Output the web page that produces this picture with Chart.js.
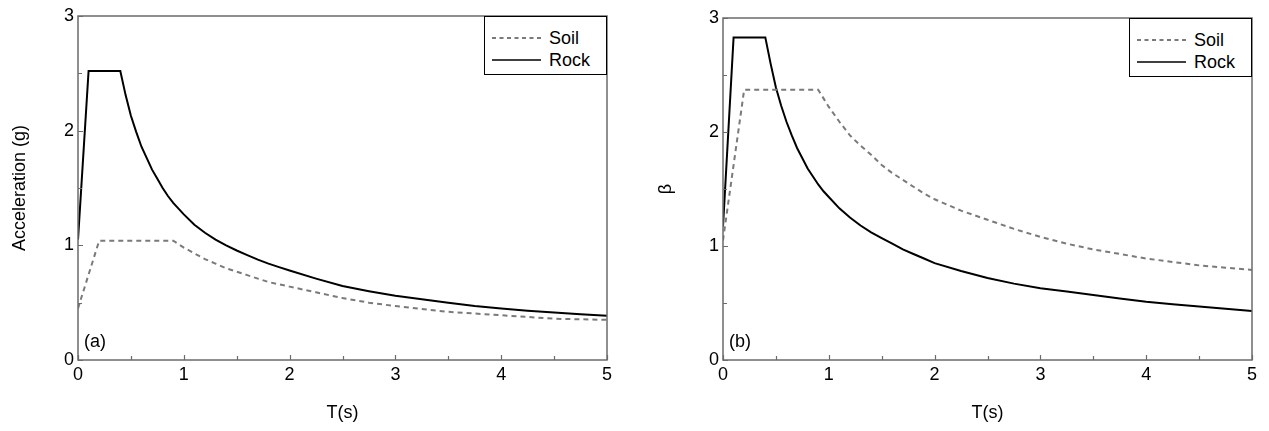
<!DOCTYPE html>
<html>
<head>
<meta charset="utf-8">
<script src="https://cdn.jsdelivr.net/npm/chart.js@4/dist/chart.umd.min.js"></script>
<style>
  html, body { margin: 0; padding: 0; background: #fff; }
  body { width: 1269px; height: 431px; position: relative; overflow: hidden; font-family: "Liberation Sans", Arial, sans-serif; }
  .panel { position: absolute; top: 0; height: 431px; }
  .legend { position: absolute; border: 1.5px solid #000; box-sizing: border-box; background: #fff; font-size: 18px; }
  .legend .row { position: absolute; left: 0; height: 22px; line-height: 22px; white-space: nowrap; }
  .legend svg { position: absolute; left: 7px; top: 0; }
  .legend span { position: absolute; left: 64px; top: 0; }
  .tag { position: absolute; font-size: 18px; line-height: 22px; }
</style>
</head>
<body>
<div class="panel" style="left:0;width:634px"><canvas id="chartA" width="634" height="431"></canvas></div>
<div class="panel" style="left:634px;width:635px"><canvas id="chartB" width="635" height="431"></canvas></div>

<script>
// periods (s)
const rockT = [0, 0.1, 0.4, 0.45, 0.5, 0.55, 0.6, 0.65, 0.7, 0.75, 0.8, 0.85, 0.9, 0.95, 1.0,
    1.1, 1.2, 1.3, 1.4, 1.5, 1.6, 1.7, 1.8, 1.9, 2.0,
    2.25, 2.5, 2.75, 3.0, 3.25, 3.5, 3.75, 4.0, 4.25, 4.5, 4.75, 5.0];
const soilT = [0, 0.2, 0.9, 1.0, 1.1, 1.2, 1.3, 1.4, 1.5, 1.6, 1.7, 1.8, 1.9, 2.0,
    2.25, 2.5, 2.75, 3.0, 3.25, 3.5, 3.75, 4.0, 4.25, 4.5, 4.75, 5.0];

// (a) acceleration (g)
const rockA = [1.05, 2.52, 2.52, 2.31, 2.13, 1.99, 1.86, 1.76, 1.66, 1.58, 1.50, 1.43, 1.37, 1.32, 1.27,
    1.18, 1.11, 1.05, 1.00, 0.955, 0.915, 0.875, 0.84, 0.81, 0.78,
    0.71, 0.645, 0.60, 0.56, 0.53, 0.50, 0.47, 0.45, 0.43, 0.415, 0.40, 0.385];
const soilA = [0.45, 1.04, 1.04, 0.98, 0.93, 0.88, 0.84, 0.80, 0.77, 0.74, 0.71, 0.68, 0.66, 0.64,
    0.59, 0.54, 0.50, 0.47, 0.445, 0.42, 0.405, 0.39, 0.375, 0.36, 0.355, 0.35];

// (b) beta
const rockB = [1.17, 2.83, 2.83, 2.60, 2.39, 2.23, 2.09, 1.97, 1.86, 1.77, 1.68, 1.61, 1.54, 1.48, 1.43,
    1.33, 1.25, 1.18, 1.12, 1.07, 1.02, 0.97, 0.93, 0.89, 0.85,
    0.78, 0.72, 0.67, 0.63, 0.60, 0.57, 0.54, 0.51, 0.49, 0.47, 0.45, 0.43];
const soilB = [1.05, 2.37, 2.37, 2.22, 2.09, 1.97, 1.88, 1.80, 1.71, 1.64, 1.58, 1.52, 1.46, 1.41,
    1.31, 1.23, 1.15, 1.08, 1.02, 0.97, 0.93, 0.89, 0.86, 0.83, 0.81, 0.79];

const seriesNames = ["Soil", "Rock"];
const xTicks = [0, 1, 2, 3, 4, 5];
const yTicks = [0, 1, 2, 3];

const fontFamily = "'Liberation Sans', Arial, sans-serif";
const labelFont = { family: fontFamily, size: 18 };
Chart.defaults.color = "#000";

const frameColor = "#6b6b6b";

function toPoints(xs, ys) {
    return xs.map((x, i) => ({ x: x, y: ys[i] }));
}

// box around the plot + inward ticks (major every 1, minor every 0.5)
const framePlugin = {
    id: "frame",
    afterDraw(chart) {
        const ctx = chart.ctx;
        const a = chart.chartArea;
        const sx = chart.scales.x;
        const sy = chart.scales.y;
        ctx.save();
        ctx.strokeStyle = frameColor;
        ctx.lineWidth = 1.5;
        ctx.strokeRect(a.left, a.top, a.right - a.left, a.bottom - a.top);

        ctx.lineWidth = 1.2;
        ctx.beginPath();
        for (let v = 0; v <= sx.max + 1e-9; v += 0.5) {
            const px = Math.round(sx.getPixelForValue(v)) + 0.5;
            const len = Number.isInteger(v) ? 5 : 4;
            ctx.moveTo(px, a.bottom);
            ctx.lineTo(px, a.bottom - len);
        }
        for (let v = 0; v <= sy.max + 1e-9; v += 0.5) {
            const py = Math.round(sy.getPixelForValue(v)) + 0.5;
            const len = Number.isInteger(v) ? 5 : 4;
            ctx.moveTo(a.left, py);
            ctx.lineTo(a.left + len, py);
        }
        ctx.stroke();
        ctx.restore();
    }
};

function makeChart(id, soil, rock, yTitle, yWidth, titlePad, padding) {
    const ctx = document.getElementById(id).getContext("2d");
    return new Chart(ctx, {
        type: "line",
        data: {
            datasets: [
                {
                    label: seriesNames[0],
                    data: toPoints(soilT, soil),
                    borderColor: "#7a7a7a",
                    borderWidth: 2,
                    borderDash: [5, 4],
                    pointRadius: 0,
                    tension: 0,
                    fill: false
                },
                {
                    label: seriesNames[1],
                    data: toPoints(rockT, rock),
                    borderColor: "#000",
                    borderWidth: 2,
                    pointRadius: 0,
                    tension: 0,
                    fill: false
                }
            ]
        },
        options: {
            responsive: false,
            animation: false,
            layout: { padding: padding },
            plugins: {
                legend: { display: false },
                tooltip: { enabled: false }
            },
            scales: {
                x: {
                    type: "linear",
                    min: 0,
                    max: 5,
                    afterBuildTicks: s => { s.ticks = xTicks.map(v => ({ value: v })); },
                    ticks: { padding: 4, maxRotation: 0, font: labelFont },
                    grid: { display: false, drawTicks: false },
                    border: { display: false },
                    title: { display: true, text: "T(s)", font: labelFont, padding: { top: 4, bottom: 7 } },
                    afterFit: s => { s.height = 71; }
                },
                y: {
                    type: "linear",
                    min: 0,
                    max: 3,
                    afterBuildTicks: s => { s.ticks = yTicks.map(v => ({ value: v })); },
                    ticks: { padding: 4, font: labelFont },
                    grid: { display: false, drawTicks: false },
                    border: { display: false },
                    title: { display: true, text: yTitle, font: labelFont, padding: { top: titlePad, bottom: 0 } },
                    afterFit: s => { s.width = yWidth; }
                }
            }
        },
        plugins: [framePlugin]
    });
}

// legend box in top-right corner of the plot, panel tag bottom-left
function addOverlay(chart, panelLeft, tag) {
    const a = chart.chartArea;
    const box = document.createElement("div");
    box.className = "legend";
    box.style.left = (panelLeft + a.right - 123) + "px";
    box.style.top = a.top + "px";
    box.style.width = "123px";
    box.style.height = "59px";
    const rows = [
        { name: seriesNames[0], top: 10, dash: "4 3.5", color: "#7a7a7a", w: 2 },
        { name: seriesNames[1], top: 32, dash: "", color: "#000", w: 1.5 }
    ];
    rows.forEach(r => {
        const row = document.createElement("div");
        row.className = "row";
        row.style.top = r.top + "px";
        row.innerHTML =
            '<svg width="50" height="22"><line x1="0" y1="11" x2="49" y2="11" stroke="' + r.color +
            '" stroke-width="' + r.w + '"' + (r.dash ? ' stroke-dasharray="' + r.dash + '"' : '') + '/></svg>' +
            '<span>' + r.name + '</span>';
        box.appendChild(row);
    });
    document.body.appendChild(box);

    const t = document.createElement("div");
    t.className = "tag";
    t.textContent = tag;
    t.style.left = (panelLeft + a.left + 6) + "px";
    t.style.top = (a.bottom - 30) + "px";
    document.body.appendChild(t);
}

const chartA = makeChart("chartA", soilA, rockA, "Acceleration (g)", 78, 9, { top: 16, right: 27, left: 0, bottom: 0 });
const chartB = makeChart("chartB", soilB, rockB, "β", 89, 21, { top: 18, right: 17, left: 0, bottom: 0 });

addOverlay(chartA, 0, "(a)");
addOverlay(chartB, 634, "(b)");
</script>
</body>
</html>
